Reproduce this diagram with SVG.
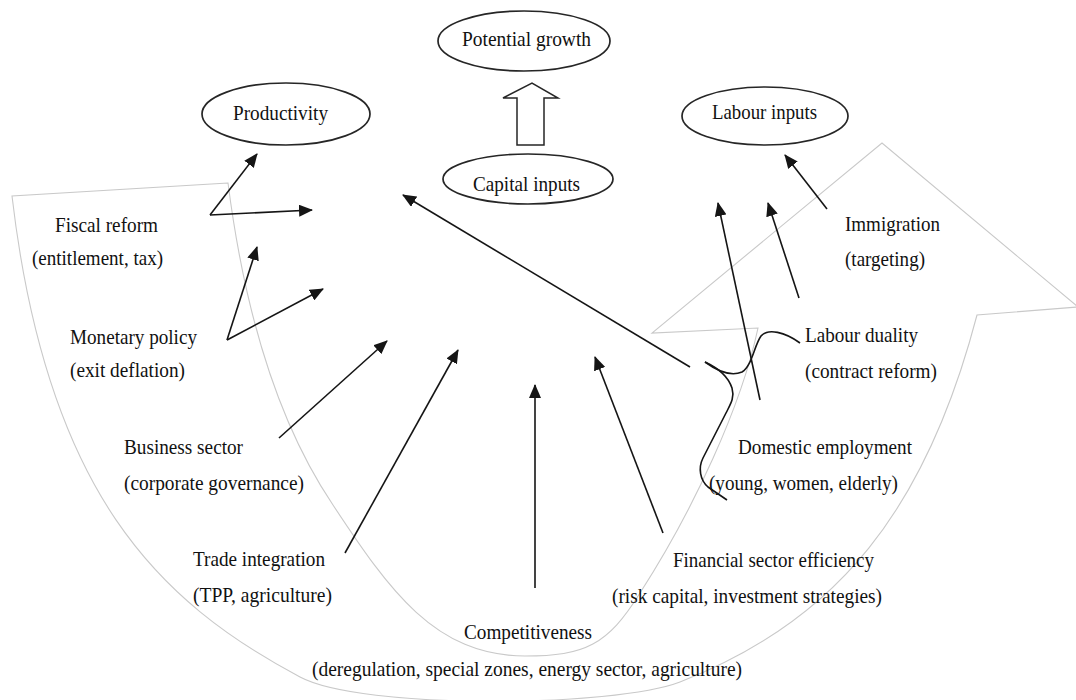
<svg xmlns="http://www.w3.org/2000/svg" width="1076" height="700" viewBox="0 0 1076 700">
  <defs>
    <marker id="head" markerUnits="userSpaceOnUse" markerWidth="14" markerHeight="12" refX="13" refY="6" orient="auto">
      <path d="M0,0 L14,6 L0,12 Z" fill="#151515"/>
    </marker>
    <style>
      text { font-family: "Liberation Serif", "Times New Roman", serif; font-size: 21px; fill: #111111; }
      .oval { fill: #ffffff; stroke: #262626; stroke-width: 1.7; }
      .band { fill: none; stroke: #c9c9c9; stroke-width: 1.1; }
      .link { fill: none; stroke: #151515; stroke-width: 1.6; }
      .arrow { marker-end: url(#head); }
    </style>
  </defs>

  <rect width="1076" height="700" fill="#ffffff"/>

  <!-- broad curved background arrow sweeping from left round to the upper right -->
  <g id="sweep">
    <path class="band" d="M228,183 L12,196 C46.8,494 159,602 300,677 C361.6,709.9 614.9,707.2 680,682 C838,621 926.4,508.4 977,315 L1078,307 L882,143 L652,333 L758,328 C741.4,406.2 694,509 640,593 C607.6,645 585,656 525,656 C435,656 389,590 333,505 C271.4,413.7 242,292 228,183 Z"/>
  </g>

  <!-- outcome nodes -->
  <g id="potential-growth">
    <ellipse class="oval" cx="524" cy="41" rx="86" ry="30"/>
    <text x="462" y="46" textLength="129" lengthAdjust="spacingAndGlyphs">Potential growth</text>
  </g>
  <g id="productivity">
    <ellipse class="oval" cx="286" cy="114" rx="84" ry="31"/>
    <text x="233" y="120" textLength="95" lengthAdjust="spacingAndGlyphs">Productivity</text>
  </g>
  <g id="labour-inputs">
    <ellipse class="oval" cx="765" cy="116" rx="83" ry="29"/>
    <text x="712" y="119" textLength="105" lengthAdjust="spacingAndGlyphs">Labour inputs</text>
  </g>
  <g id="capital-inputs">
    <ellipse class="oval" cx="528" cy="179" rx="85" ry="25"/>
    <text x="473" y="191" textLength="107" lengthAdjust="spacingAndGlyphs">Capital inputs</text>
  </g>
  <g id="capital-to-growth">
    <polygon points="517,145 544,145 544,98 558,98 532,83 503,98 517,98" fill="#ffffff" stroke="#262626" stroke-width="1.5"/>
  </g>

  <!-- policy levers -->
  <g id="fiscal-reform">
    <text x="55" y="232" textLength="103" lengthAdjust="spacingAndGlyphs">Fiscal reform</text>
    <text x="32" y="265" textLength="131" lengthAdjust="spacingAndGlyphs">(entitlement, tax)</text>
  </g>
  <g id="monetary-policy">
    <text x="70" y="344" textLength="127" lengthAdjust="spacingAndGlyphs">Monetary policy</text>
    <text x="70" y="377" textLength="115" lengthAdjust="spacingAndGlyphs">(exit deflation)</text>
  </g>
  <g id="business-sector">
    <text x="124" y="454" textLength="119" lengthAdjust="spacingAndGlyphs">Business sector</text>
    <text x="124" y="490" textLength="180" lengthAdjust="spacingAndGlyphs">(corporate governance)</text>
  </g>
  <g id="trade-integration">
    <text x="193" y="566" textLength="132" lengthAdjust="spacingAndGlyphs">Trade integration</text>
    <text x="193" y="602" textLength="139" lengthAdjust="spacingAndGlyphs">(TPP, agriculture)</text>
  </g>
  <g id="competitiveness">
    <text x="464" y="639" textLength="128" lengthAdjust="spacingAndGlyphs">Competitiveness</text>
    <text x="312" y="676" textLength="430" lengthAdjust="spacingAndGlyphs">(deregulation, special zones, energy sector, agriculture)</text>
  </g>
  <g id="financial-sector">
    <text x="673" y="567" textLength="201" lengthAdjust="spacingAndGlyphs">Financial sector efficiency</text>
    <text x="612" y="603" textLength="270" lengthAdjust="spacingAndGlyphs">(risk capital, investment strategies)</text>
  </g>
  <g id="domestic-employment">
    <text x="738" y="454" textLength="174" lengthAdjust="spacingAndGlyphs">Domestic employment</text>
    <text x="709" y="490" textLength="189" lengthAdjust="spacingAndGlyphs">(young, women, elderly)</text>
  </g>
  <g id="labour-duality">
    <text x="805" y="342" textLength="113" lengthAdjust="spacingAndGlyphs">Labour duality</text>
    <text x="805" y="378" textLength="132" lengthAdjust="spacingAndGlyphs">(contract reform)</text>
  </g>
  <g id="immigration">
    <text x="845" y="231" textLength="95" lengthAdjust="spacingAndGlyphs">Immigration</text>
    <text x="845" y="266" textLength="80" lengthAdjust="spacingAndGlyphs">(targeting)</text>
  </g>

  <!-- connectors -->
  <g id="connectors">
    <path class="link arrow" d="M210,215 L257,154"/>
    <path class="link arrow" d="M210,215 L312,210"/>
    <path class="link arrow" d="M227,340 L257,247"/>
    <path class="link arrow" d="M227,340 L323,289"/>
    <path class="link arrow" d="M279,438 L387,341"/>
    <path class="link arrow" d="M345,553 L458,350"/>
    <path class="link arrow" d="M535,588 L535,385"/>
    <path class="link arrow" d="M663,533 L595,357"/>
    <path class="link arrow" d="M690,367 L403,195"/>
    <path class="link arrow" d="M760,400 L718,203"/>
    <path class="link arrow" d="M799,298 L768,203"/>
    <path class="link arrow" d="M827,209 L785,155"/>
    <!-- brace joining labour duality and domestic employment -->
    <path class="link" d="M800,343 C785,332 768,328 761,336 C754,346 752,366 742,372 C730,377 716,370 705,362"/>
    <path class="link" d="M705,362 C718,368 728,376 732,388 C735,398 730,405 726,413 L703,458 C698,468 700,480 708,487 L727,500"/>
  </g>
</svg>
